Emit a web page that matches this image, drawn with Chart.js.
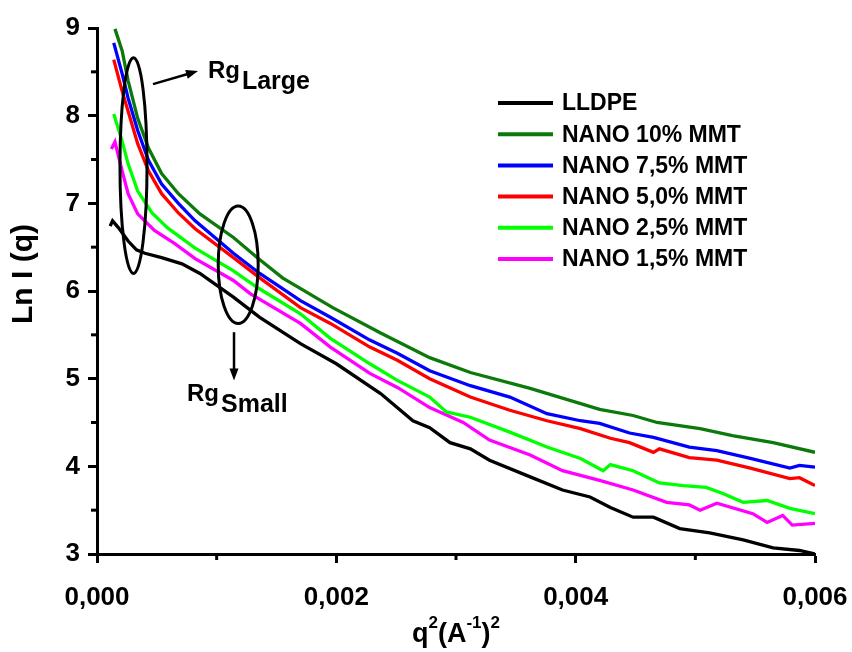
<!DOCTYPE html>
<html>
<head>
<meta charset="utf-8">
<script src="https://cdn.jsdelivr.net/npm/chart.js@4.4.1/dist/chart.umd.min.js"></script>
<style>
  html, body { margin: 0; padding: 0; background: #fff; }
  #grafico { display: block; }
</style>
</head>
<body>
<canvas id="grafico" width="852" height="652"></canvas>
<script>
// q^2 (A^-1)^2 and Ln I(q) for each sample
const lldpeQ2 = [0.00011, 0.00013, 0.00018, 0.00026, 0.00033, 0.00040, 0.00054, 0.00071, 0.00086, 0.00114, 0.00136, 0.00170, 0.00200, 0.00237, 0.00264, 0.00278, 0.00295, 0.00312, 0.00328, 0.00362, 0.00389, 0.00412, 0.00429, 0.00448, 0.00465, 0.00487, 0.00512, 0.00540, 0.00565, 0.00587, 0.00600];
const lldpeLnI = [6.74, 6.80, 6.72, 6.57, 6.47, 6.43, 6.38, 6.31, 6.20, 5.93, 5.70, 5.40, 5.17, 4.83, 4.52, 4.44, 4.27, 4.20, 4.07, 3.88, 3.73, 3.65, 3.53, 3.42, 3.42, 3.29, 3.24, 3.16, 3.07, 3.04, 3.00];

const nano10Q2 = [0.00015, 0.00021, 0.00026, 0.00034, 0.00043, 0.00054, 0.00068, 0.00086, 0.00114, 0.00134, 0.00155, 0.00197, 0.00237, 0.00278, 0.00312, 0.00362, 0.00420, 0.00448, 0.00468, 0.00504, 0.00531, 0.00565, 0.00600];
const nano10LnI = [8.99, 8.74, 8.40, 7.97, 7.63, 7.34, 7.11, 6.88, 6.61, 6.38, 6.15, 5.81, 5.52, 5.24, 5.07, 4.89, 4.65, 4.58, 4.50, 4.43, 4.35, 4.27, 4.16];

const nano75Q2 = [0.00014, 0.00021, 0.00026, 0.00034, 0.00043, 0.00054, 0.00068, 0.00082, 0.00114, 0.00136, 0.00170, 0.00195, 0.00228, 0.00251, 0.00278, 0.00312, 0.00345, 0.00376, 0.00404, 0.00420, 0.00445, 0.00465, 0.00495, 0.00518, 0.00546, 0.00579, 0.00587, 0.00600];
const nano75LnI = [8.83, 8.48, 8.20, 7.83, 7.49, 7.22, 7.00, 6.80, 6.43, 6.20, 5.89, 5.70, 5.44, 5.29, 5.09, 4.92, 4.79, 4.60, 4.52, 4.49, 4.38, 4.33, 4.22, 4.18, 4.09, 3.98, 4.01, 3.99];

const nano50Q2 = [0.00014, 0.00021, 0.00026, 0.00034, 0.00043, 0.00054, 0.00068, 0.00082, 0.00114, 0.00136, 0.00170, 0.00195, 0.00228, 0.00251, 0.00278, 0.00312, 0.00345, 0.00376, 0.00404, 0.00429, 0.00445, 0.00465, 0.00470, 0.00495, 0.00518, 0.00546, 0.00579, 0.00587, 0.00600];
const nano50LnI = [8.64, 8.28, 8.05, 7.68, 7.37, 7.11, 6.89, 6.71, 6.38, 6.15, 5.81, 5.63, 5.36, 5.21, 5.00, 4.79, 4.64, 4.52, 4.43, 4.32, 4.27, 4.16, 4.20, 4.10, 4.07, 3.98, 3.86, 3.87, 3.78];

const nano25Q2 = [0.00014, 0.00021, 0.00026, 0.00034, 0.00046, 0.00059, 0.00082, 0.00114, 0.00134, 0.00170, 0.00195, 0.00228, 0.00251, 0.00278, 0.00292, 0.00312, 0.00345, 0.00376, 0.00404, 0.00423, 0.00429, 0.00448, 0.00470, 0.00490, 0.00509, 0.00523, 0.00540, 0.00560, 0.00579, 0.00600];
const nano25LnI = [8.02, 7.71, 7.45, 7.14, 6.89, 6.72, 6.49, 6.23, 6.04, 5.74, 5.46, 5.17, 4.98, 4.79, 4.62, 4.56, 4.39, 4.22, 4.09, 3.95, 4.02, 3.95, 3.81, 3.78, 3.76, 3.69, 3.59, 3.61, 3.52, 3.46];

const nano15Q2 = [0.00012, 0.00015, 0.00021, 0.00026, 0.00034, 0.00048, 0.00065, 0.00082, 0.00114, 0.00128, 0.00170, 0.00195, 0.00228, 0.00251, 0.00278, 0.00306, 0.00328, 0.00362, 0.00389, 0.00420, 0.00448, 0.00476, 0.00495, 0.00504, 0.00518, 0.00548, 0.00560, 0.00573, 0.00581, 0.00600];
const nano15LnI = [7.62, 7.70, 7.37, 7.11, 6.88, 6.69, 6.54, 6.37, 6.12, 5.97, 5.63, 5.36, 5.06, 4.90, 4.67, 4.50, 4.30, 4.13, 3.95, 3.84, 3.73, 3.59, 3.56, 3.50, 3.58, 3.46, 3.36, 3.44, 3.33, 3.35];

const seriesNames = ["LLDPE", "NANO 10% MMT", "NANO 7,5% MMT", "NANO 5,0% MMT", "NANO 2,5% MMT", "NANO 1,5% MMT"];
const seriesColors = ["#000000", "#0b7a0b", "#0000ff", "#ff0000", "#00ff00", "#ff00ff"];
const seriesQ2 = [lldpeQ2, nano10Q2, nano75Q2, nano50Q2, nano25Q2, nano15Q2];
const seriesLnI = [lldpeLnI, nano10LnI, nano75LnI, nano50LnI, nano25LnI, nano15LnI];

const FONT = "'Liberation Sans', Arial, sans-serif";

function pontos(xs, ys) {
  return xs.map((x, i) => ({ x: x, y: ys[i] }));
}

const datasets = seriesNames.map((nome, i) => ({
  label: nome,
  data: pontos(seriesQ2[i], seriesLnI[i]),
  borderColor: seriesColors[i],
  borderWidth: 3.3,
  pointRadius: 0,
  tension: 0,
  fill: false
}));

// minor ticks, titles, legend and the Rg markers
const extras = {
  id: "extras",
  afterDraw(chart) {
    const ctx = chart.ctx;
    const xs = chart.scales.x;
    const ys = chart.scales.y;
    const area = chart.chartArea;
    ctx.save();
    ctx.strokeStyle = "#000";
    ctx.fillStyle = "#000";

    // minor ticks
    ctx.lineWidth = 3;
    [3.5, 4.5, 5.5, 6.5, 7.5, 8.5].forEach(v => {
      const py = ys.getPixelForValue(v);
      ctx.beginPath();
      ctx.moveTo(area.left - 6, py);
      ctx.lineTo(area.left, py);
      ctx.stroke();
    });
    [0.001, 0.003, 0.005].forEach(v => {
      const px = xs.getPixelForValue(v);
      ctx.beginPath();
      ctx.moveTo(px, area.bottom);
      ctx.lineTo(px, area.bottom + 6);
      ctx.stroke();
    });

    // y title
    ctx.save();
    ctx.translate(24, 274);
    ctx.rotate(-Math.PI / 2);
    ctx.font = "bold 30px " + FONT;
    ctx.textAlign = "center";
    ctx.textBaseline = "middle";
    ctx.fillText("Ln I (q)", 0, 0);
    ctx.restore();

    // x title with superscripts
    const partes = [
      ["q", false], ["2", true], ["(A", false], ["-1", true], [")", false], ["2", true]
    ];
    const fonteBase = "bold 27px " + FONT;
    const fonteSup = "bold 17px " + FONT;
    let largura = 0;
    partes.forEach(p => {
      ctx.font = p[1] ? fonteSup : fonteBase;
      largura += ctx.measureText(p[0]).width;
    });
    let cx = 456 - largura / 2;
    const base = 642;
    ctx.textAlign = "left";
    ctx.textBaseline = "alphabetic";
    partes.forEach(p => {
      ctx.font = p[1] ? fonteSup : fonteBase;
      ctx.fillText(p[0], cx, p[1] ? base - 14 : base);
      cx += ctx.measureText(p[0]).width;
    });

    // legend
    ctx.font = "bold 23px " + FONT;
    ctx.textBaseline = "middle";
    seriesNames.forEach((nome, i) => {
      const ly = 103 + i * 31.2;
      ctx.strokeStyle = seriesColors[i];
      ctx.lineWidth = 4;
      ctx.beginPath();
      ctx.moveTo(498, ly);
      ctx.lineTo(553, ly);
      ctx.stroke();
      ctx.fillStyle = "#000";
      ctx.fillText(nome, 562, ly + 1);
    });

    // ellipses around the Guinier regions
    ctx.strokeStyle = "#000";
    ctx.lineWidth = 3;
    const elipses = [
      { x: 0.000305, y: 7.43, rx: 0.000113, ry: 1.23 },
      { x: 0.00118, y: 6.30, rx: 0.000167, ry: 0.67 }
    ];
    elipses.forEach(e => {
      const px = xs.getPixelForValue(e.x);
      const py = ys.getPixelForValue(e.y);
      const rx = xs.getPixelForValue(e.x + e.rx) - px;
      const ry = py - ys.getPixelForValue(e.y + e.ry);
      ctx.beginPath();
      ctx.ellipse(px, py, rx, ry, 0, 0, Math.PI * 2);
      ctx.stroke();
    });

    // arrows
    function seta(x1, y1, x2, y2) {
      const a1 = xs.getPixelForValue(x1), b1 = ys.getPixelForValue(y1);
      const a2 = xs.getPixelForValue(x2), b2 = ys.getPixelForValue(y2);
      const ang = Math.atan2(b2 - b1, a2 - a1);
      ctx.lineWidth = 2.5;
      ctx.beginPath();
      ctx.moveTo(a1, b1);
      ctx.lineTo(a2 - 8 * Math.cos(ang), b2 - 8 * Math.sin(ang));
      ctx.stroke();
      ctx.beginPath();
      ctx.moveTo(a2, b2);
      ctx.lineTo(a2 - 12 * Math.cos(ang) + 4.5 * Math.sin(ang), b2 - 12 * Math.sin(ang) - 4.5 * Math.cos(ang));
      ctx.lineTo(a2 - 12 * Math.cos(ang) - 4.5 * Math.sin(ang), b2 - 12 * Math.sin(ang) + 4.5 * Math.cos(ang));
      ctx.closePath();
      ctx.fill();
    }
    seta(0.000468, 8.36, 0.000844, 8.51);
    seta(0.001145, 5.53, 0.001145, 4.98);

    // Rg labels
    function rotulo(x, y, sub) {
      const px = xs.getPixelForValue(x);
      const py = ys.getPixelForValue(y);
      ctx.textBaseline = "alphabetic";
      ctx.textAlign = "left";
      ctx.font = "bold 24px " + FONT;
      ctx.fillText("Rg", px, py);
      const w = ctx.measureText("Rg").width;
      ctx.font = "bold 25px " + FONT;
      ctx.fillText(sub, px + w + 2, py + 11);
    }
    rotulo(0.000927, 8.43, "Large");
    rotulo(0.000752, 4.75, "Small");

    ctx.restore();
  }
};

new Chart(document.getElementById("grafico"), {
  type: "line",
  data: { datasets: datasets },
  options: {
    responsive: false,
    animation: false,
    layout: { padding: { top: 28, right: 37, left: 0, bottom: 0 } },
    plugins: {
      legend: { display: false },
      tooltip: { enabled: false }
    },
    scales: {
      x: {
        type: "linear",
        min: 0,
        max: 0.006,
        afterFit: s => { s.height = 98; s.paddingLeft = 0; s.paddingRight = 0; },
        border: { color: "#000", width: 3 },
        grid: { drawOnChartArea: false, drawTicks: true, tickLength: 9, tickWidth: 3, tickColor: "#000" },
        ticks: {
          stepSize: 0.002,
          color: "#000",
          padding: 19,
          maxRotation: 0,
          font: { family: FONT, size: 26, weight: "bold" },
          callback: v => v.toFixed(3).replace(".", ",")
        }
      },
      y: {
        min: 3,
        max: 9,
        afterFit: s => { s.width = 97; s.paddingTop = 0; s.paddingBottom = 0; },
        border: { color: "#000", width: 3 },
        grid: { drawOnChartArea: false, drawTicks: true, tickLength: 9, tickWidth: 3, tickColor: "#000" },
        ticks: {
          stepSize: 1,
          color: "#000",
          padding: 8,
          font: { family: FONT, size: 26, weight: "bold" }
        }
      }
    }
  },
  plugins: [extras]
});
</script>
</body>
</html>
